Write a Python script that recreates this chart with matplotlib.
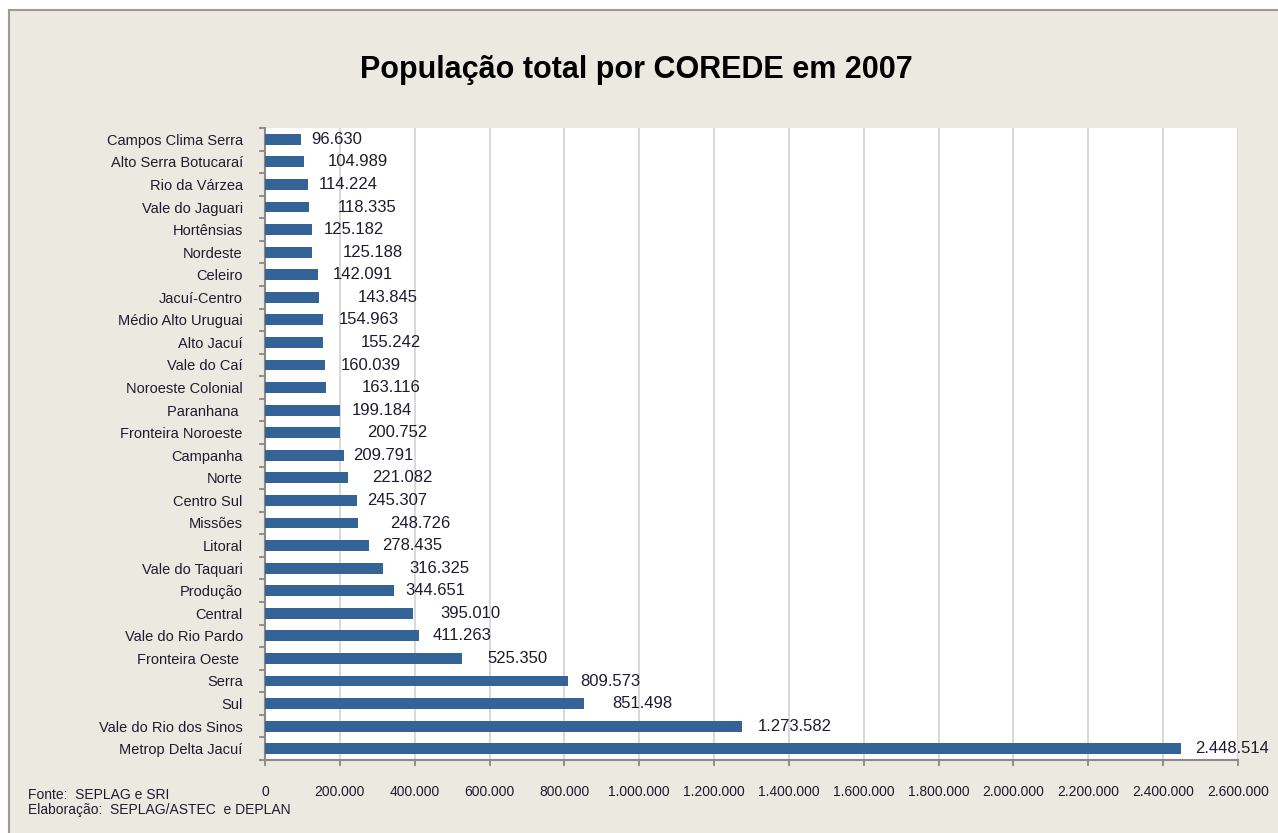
import matplotlib
matplotlib.use("Agg")
import matplotlib.pyplot as plt
from matplotlib.patches import Rectangle
from matplotlib.ticker import FuncFormatter, MultipleLocator
import numpy as np

# ---- data ----
categories = [
    "Campos Clima Serra", "Alto Serra Botucaraí", "Rio da Várzea", "Vale do Jaguari",
    "Hortênsias", "Nordeste", "Celeiro", "Jacuí-Centro", "Médio Alto Uruguai",
    "Alto Jacuí", "Vale do Caí", "Noroeste Colonial", "Paranhana ", "Fronteira Noroeste",
    "Campanha", "Norte", "Centro Sul", "Missões", "Litoral", "Vale do Taquari",
    "Produção", "Central", "Vale do Rio Pardo", "Fronteira Oeste ", "Serra", "Sul",
    "Vale do Rio dos Sinos", "Metrop Delta Jacuí",
]
population = [
    96630, 104989, 114224, 118335, 125182, 125188, 142091, 143845, 154963,
    155242, 160039, 163116, 199184, 200752, 209791, 221082, 245307, 248726,
    278435, 316325, 344651, 395010, 411263, 525350, 809573, 851498,
    1273582, 2448514,
]
title = "População total por COREDE em 2007"
source_lines = ["Fonte:  SEPLAG e SRI", "Elaboração:  SEPLAG/ASTEC  e DEPLAN"]

# style: horizontal offsets (px) of value labels from bar ends (mimics Excel placement)
label_offsets_px = [10, 23, 11, 28, 12, 31, 15, 39, 16, 38, 16, 36, 12, 27,
                    10, 24, 10, 32, 13, 26, 11, 27, 14, 26, 12, 29, 16, 14]


def fmt_pt(v):
    return f"{int(v):,}".replace(",", ".")


plt.rcParams['font.family'] = ['Liberation Sans', 'DejaVu Sans']

W, H = 1278, 833
fig = plt.figure(figsize=(W / 100, H / 100), dpi=100, facecolor="white")

# beige chart area with grey border
bg = Rectangle((9 / W, -0.01), 1.02, 1 - 10 / H + 0.01, transform=fig.transFigure,
               facecolor="#ECEAE0", edgecolor="#9A9A9A", linewidth=1.5, zorder=-10)
fig.patches.append(bg)

ax = fig.add_axes([265 / W, (H - 760) / H, (1238 - 265) / W, (760 - 128) / H], zorder=1)
ax.set_facecolor("white")

y = np.arange(len(categories))
ax.barh(y, population, height=0.48, color="#346497", zorder=3)

ax.set_xlim(0, 2600000)
ax.set_ylim(len(categories) - 0.5, -0.5)

ax.xaxis.set_major_locator(MultipleLocator(200000))
ax.xaxis.set_major_formatter(FuncFormatter(lambda v, p: fmt_pt(v)))
ax.grid(axis="x", color="#D2D2D2", linewidth=1.2, zorder=0)
ax.set_axisbelow(True)

ax.set_yticks(y)
ax.set_yticklabels(categories)
ax.set_yticks(np.arange(len(categories) + 1) - 0.5, minor=True)
ax.tick_params(axis="y", which="major", length=0, pad=16, labelsize=10.5, labelcolor="#1c1c30")
ax.tick_params(axis="y", which="minor", length=4, color="#808080", width=1.2)
ax.tick_params(axis="x", which="major", length=4, color="#808080", width=1.2, pad=14,
               labelsize=10, labelcolor="#1c1c30")

for s in ["top", "right"]:
    ax.spines[s].set_visible(False)
for s in ["left", "bottom"]:
    ax.spines[s].set_color("#8A8A8A")
    ax.spines[s].set_linewidth(1.5)

for i, v in enumerate(population):
    ax.annotate(fmt_pt(v), xy=(v, i), xytext=(label_offsets_px[i] * 0.72, 0),
                textcoords="offset points", va="center", ha="left",
                fontsize=12, color="#1c1c30", zorder=4, annotation_clip=False)

fig.text(636 / W, 1 - 70 / H, title, ha="center", va="center",
         fontsize=22, fontweight="bold", color="black")

fig.text(28 / W, 1 - 795 / H, source_lines[0], ha="left", va="center", fontsize=10, color="#1c1c30")
fig.text(28 / W, 1 - 810 / H, source_lines[1], ha="left", va="center", fontsize=10, color="#1c1c30")

fig.savefig("out.png", dpi=100, facecolor="white")
